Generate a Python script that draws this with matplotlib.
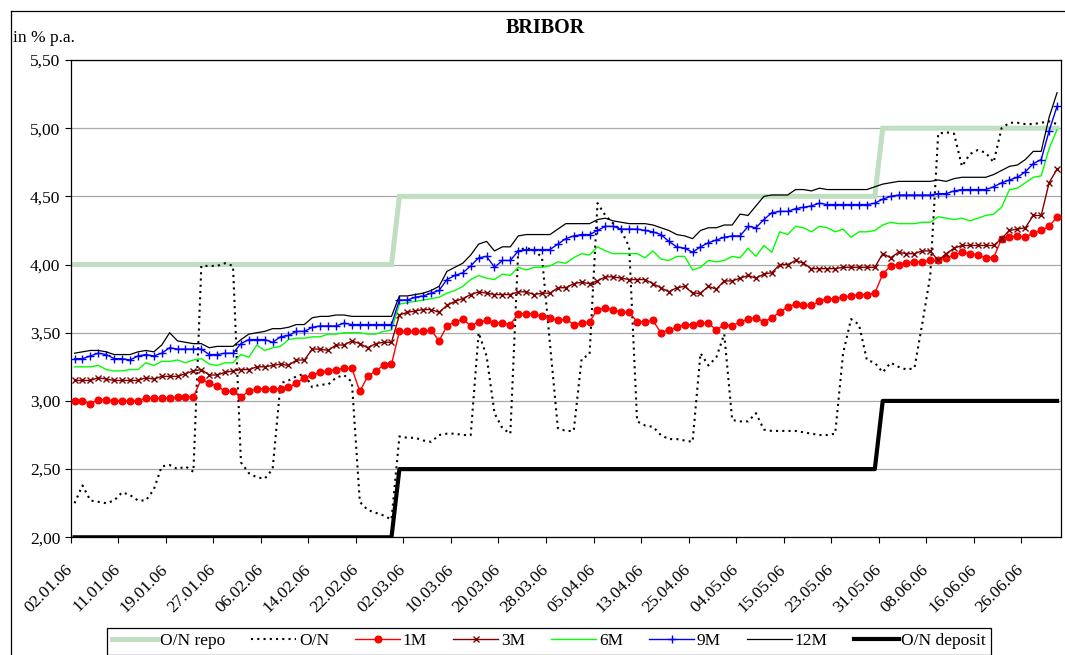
import matplotlib
matplotlib.use("Agg")
import matplotlib.pyplot as plt
from matplotlib.lines import Line2D
import numpy as np

plt.rcParams['font.family'] = ['Liberation Serif', 'DejaVu Serif']

# Daily BRIBOR fixings, first half of 2006 (one value per trading day)
tick_labels = ["02.01.06", "11.01.06", "19.01.06", "27.01.06", "06.02.06",
               "14.02.06", "22.02.06", "02.03.06", "10.03.06", "20.03.06",
               "28.03.06", "05.04.06", "13.04.06", "25.04.06", "04.05.06",
               "15.05.06", "23.05.06", "31.05.06", "08.06.06", "16.06.06",
               "26.06.06"]
tick_every = 6

on_repo = [4.00] * 41 + [4.50] * 61 + [5.00] * 23
on_deposit = [2.00] * 41 + [2.50] * 61 + [3.00] * 23

on_rate = [2.25, 2.38, 2.27, 2.26, 2.25, 2.27, 2.33, 2.31, 2.27, 2.27, 2.35, 2.52, 2.53,
           2.50, 2.52, 2.48, 3.99, 3.99, 3.99, 4.01, 3.99, 2.55, 2.47, 2.44, 2.43,
           2.50, 3.13, 3.15, 3.18, 3.20, 3.10, 3.12, 3.12, 3.17, 3.19, 3.14, 2.26,
           2.20, 2.18, 2.16, 2.13, 2.74, 2.73, 2.73, 2.71, 2.70, 2.75, 2.76, 2.76,
           2.75, 2.75, 3.50, 3.33, 2.91, 2.80, 2.76, 4.11, 4.12, 4.11, 4.05, 3.42, 2.80,
           2.78, 2.78, 3.31, 3.34, 4.45, 4.36, 4.30, 4.25, 4.13, 2.85, 2.82, 2.81, 2.75,
           2.72, 2.72, 2.71, 2.70, 3.35, 3.26, 3.32, 3.49, 2.86, 2.85, 2.85, 2.91, 2.79,
           2.78, 2.78, 2.78, 2.78, 2.77, 2.76, 2.75, 2.75, 2.76, 3.35, 3.60, 3.56, 3.30,
           3.28, 3.21, 3.28, 3.25, 3.23, 3.24, 3.57, 3.92, 4.96, 4.97, 4.96, 4.72,
           4.81, 4.84, 4.82, 4.75, 5.00, 5.04, 5.04, 5.03, 5.03, 5.04, 5.05, 5.03]

rate_1m = [3.00, 3.00, 2.98, 3.01, 3.01, 3.00, 3.00, 3.00, 3.00, 3.02, 3.02, 3.02, 3.02,
           3.03, 3.03, 3.03, 3.16, 3.13, 3.11, 3.07, 3.07, 3.03, 3.07, 3.09, 3.09,
           3.09, 3.09, 3.10, 3.13, 3.17, 3.19, 3.21, 3.22, 3.23, 3.24, 3.24, 3.07,
           3.18, 3.22, 3.26, 3.27, 3.51, 3.51, 3.51, 3.51, 3.52, 3.44, 3.55, 3.58,
           3.60, 3.55, 3.58, 3.59, 3.57, 3.57, 3.56, 3.64, 3.64, 3.64, 3.62, 3.61, 3.59,
           3.60, 3.56, 3.57, 3.58, 3.67, 3.68, 3.67, 3.65, 3.65, 3.58, 3.58, 3.59, 3.50,
           3.52, 3.54, 3.56, 3.56, 3.57, 3.57, 3.52, 3.56, 3.55, 3.58, 3.60, 3.61, 3.58,
           3.61, 3.65, 3.69, 3.71, 3.70, 3.70, 3.73, 3.75, 3.75, 3.76, 3.77, 3.78, 3.78,
           3.79, 3.93, 3.99, 4.00, 4.01, 4.02, 4.02, 4.03, 4.03, 4.05, 4.07, 4.09,
           4.08, 4.07, 4.05, 4.05, 4.19, 4.20, 4.21, 4.20, 4.23, 4.25, 4.28, 4.35]

rate_3m = [3.15, 3.15, 3.15, 3.17, 3.16, 3.15, 3.15, 3.15, 3.15, 3.17, 3.16, 3.18, 3.18,
           3.18, 3.20, 3.22, 3.23, 3.19, 3.19, 3.21, 3.22, 3.23, 3.23, 3.25, 3.25,
           3.26, 3.27, 3.26, 3.30, 3.30, 3.38, 3.38, 3.37, 3.41, 3.41, 3.44, 3.42,
           3.39, 3.42, 3.43, 3.43, 3.63, 3.65, 3.66, 3.67, 3.67, 3.65, 3.70, 3.73,
           3.75, 3.78, 3.80, 3.79, 3.78, 3.78, 3.78, 3.80, 3.80, 3.78, 3.79, 3.79, 3.83,
           3.83, 3.86, 3.87, 3.86, 3.88, 3.91, 3.91, 3.90, 3.89, 3.89, 3.89, 3.86, 3.83,
           3.80, 3.83, 3.84, 3.79, 3.79, 3.84, 3.82, 3.88, 3.88, 3.90, 3.92, 3.90, 3.93,
           3.94, 4.00, 4.00, 4.03, 4.01, 3.97, 3.97, 3.97, 3.97, 3.98, 3.98, 3.98, 3.98,
           3.98, 4.08, 4.05, 4.09, 4.08, 4.08, 4.10, 4.10, 4.03, 4.08, 4.12, 4.14,
           4.14, 4.14, 4.14, 4.14, 4.19, 4.25, 4.26, 4.27, 4.36, 4.36, 4.60, 4.70]

rate_6m = [3.25, 3.25, 3.25, 3.26, 3.23, 3.22, 3.22, 3.23, 3.23, 3.28, 3.26, 3.29, 3.29,
           3.30, 3.28, 3.30, 3.31, 3.27, 3.26, 3.28, 3.28, 3.34, 3.32, 3.41, 3.37,
           3.39, 3.40, 3.45, 3.46, 3.46, 3.47, 3.47, 3.49, 3.49, 3.50, 3.50, 3.50,
           3.49, 3.49, 3.51, 3.52, 3.71, 3.72, 3.73, 3.74, 3.75, 3.76, 3.79, 3.81,
           3.84, 3.89, 3.92, 3.90, 3.89, 3.93, 3.92, 3.98, 3.96, 3.98, 3.98, 3.99, 4.02,
           4.01, 4.05, 4.08, 4.07, 4.13, 4.10, 4.08, 4.08, 4.08, 4.08, 4.05, 4.10, 4.04,
           4.03, 4.06, 4.06, 3.96, 3.98, 4.03, 4.02, 4.03, 4.06, 4.05, 4.12, 4.06, 4.14,
           4.09, 4.24, 4.22, 4.28, 4.27, 4.24, 4.28, 4.27, 4.24, 4.26, 4.20, 4.24, 4.24,
           4.25, 4.29, 4.31, 4.30, 4.30, 4.30, 4.31, 4.31, 4.35, 4.34, 4.33, 4.34,
           4.32, 4.34, 4.36, 4.37, 4.42, 4.55, 4.56, 4.60, 4.64, 4.65, 4.85, 4.99]

rate_9m = [3.31, 3.31, 3.33, 3.35, 3.34, 3.31, 3.31, 3.30, 3.33, 3.34, 3.33, 3.35, 3.39,
           3.38, 3.38, 3.38, 3.38, 3.34, 3.34, 3.35, 3.35, 3.42, 3.45, 3.45, 3.45,
           3.43, 3.47, 3.48, 3.51, 3.51, 3.54, 3.55, 3.55, 3.55, 3.57, 3.56, 3.56,
           3.56, 3.56, 3.56, 3.56, 3.74, 3.74, 3.76, 3.77, 3.79, 3.81, 3.89, 3.92,
           3.94, 3.99, 4.05, 4.06, 3.98, 4.03, 4.03, 4.10, 4.11, 4.11, 4.11, 4.11, 4.15,
           4.19, 4.21, 4.22, 4.22, 4.25, 4.28, 4.28, 4.26, 4.26, 4.26, 4.25, 4.24, 4.22,
           4.17, 4.13, 4.12, 4.09, 4.13, 4.16, 4.18, 4.20, 4.21, 4.21, 4.28, 4.27, 4.33,
           4.38, 4.39, 4.39, 4.41, 4.42, 4.43, 4.45, 4.44, 4.44, 4.44, 4.44, 4.44, 4.44,
           4.45, 4.48, 4.50, 4.51, 4.51, 4.51, 4.51, 4.51, 4.52, 4.52, 4.54, 4.55,
           4.55, 4.55, 4.55, 4.57, 4.60, 4.62, 4.64, 4.68, 4.74, 4.77, 4.98, 5.16]

rate_12m = [3.35, 3.36, 3.37, 3.37, 3.36, 3.34, 3.34, 3.34, 3.36, 3.37, 3.36, 3.41, 3.50,
            3.44, 3.43, 3.42, 3.42, 3.39, 3.40, 3.40, 3.40, 3.45, 3.49, 3.50, 3.51,
            3.53, 3.53, 3.54, 3.56, 3.56, 3.61, 3.62, 3.62, 3.63, 3.63, 3.62, 3.62,
            3.62, 3.62, 3.62, 3.62, 3.77, 3.77, 3.78, 3.79, 3.81, 3.84, 3.95, 3.98,
            4.01, 4.07, 4.15, 4.17, 4.10, 4.13, 4.13, 4.21, 4.22, 4.22, 4.22, 4.22, 4.26,
            4.30, 4.30, 4.30, 4.30, 4.33, 4.34, 4.32, 4.31, 4.30, 4.30, 4.30, 4.29, 4.27,
            4.25, 4.22, 4.21, 4.19, 4.25, 4.27, 4.27, 4.29, 4.29, 4.37, 4.36, 4.43, 4.50,
            4.51, 4.51, 4.51, 4.55, 4.55, 4.54, 4.56, 4.55, 4.55, 4.55, 4.55, 4.55, 4.55,
            4.57, 4.59, 4.60, 4.61, 4.61, 4.61, 4.61, 4.61, 4.62, 4.61, 4.63, 4.64,
            4.64, 4.64, 4.64, 4.66, 4.69, 4.72, 4.73, 4.77, 4.83, 4.83, 5.08, 5.26]

W, H = 1065, 655
fig = plt.figure(figsize=(W / 100, H / 100), dpi=100)
ax = fig.add_axes([70.6 / W, 1 - 537.3 / H, (1061 - 70.6) / W, (537.3 - 60) / H])

x = np.arange(len(rate_1m))

ax.plot(x, on_repo, color='#c0dfc0', lw=3.6, solid_joinstyle='miter', label='O/N repo', zorder=2)
ax.plot(x, on_rate, color='black', lw=1.5, linestyle=(0, (1, 2.0)), label='O/N', zorder=3)
ax.plot(x, rate_1m, color='#ff0000', lw=1.0, marker='o', ms=4.8, mec='#ff0000', mfc='#ff0000',
        label='1M', zorder=4)
ax.plot(x, rate_3m, color='#800000', lw=1.0, marker='x', ms=4.6, mew=1.0, label='3M', zorder=5)
ax.plot(x, rate_6m, color='#00ff00', lw=1.0, label='6M', zorder=6)
ax.plot(x, rate_9m, color='#0000ff', lw=1.0, marker='+', ms=6.0, mew=1.0, label='9M', zorder=7)
ax.plot(x, rate_12m, color='black', lw=0.9, label='12M', zorder=8)
ax.plot(x, on_deposit, color='black', lw=3.0, label='O/N deposit', zorder=9)

ax.set_xlim(-0.5, len(x) - 0.5)
ax.set_ylim(2.0, 5.5)

yt = np.arange(2.0, 5.51, 0.5)
ax.set_yticks(yt)
ax.set_yticklabels([f"{v:.2f}".replace('.', ',') for v in yt], fontsize=12.5)
ax.yaxis.grid(True, color='#a8a8a8', lw=0.9)
ax.set_axisbelow(True)

xt = np.arange(len(tick_labels)) * tick_every - 0.5
ax.set_xticks(xt)
ax.set_xticklabels(tick_labels, rotation=45, ha='right', va='center',
                   rotation_mode='anchor', fontsize=12.5)
ax.tick_params(axis='x', direction='out', length=4.5, width=0.8, pad=17)
ax.tick_params(axis='y', direction='out', length=4.5, width=0.8, pad=3)

for s in ax.spines.values():
    s.set_color('black')
    s.set_linewidth(0.9)

fig.text(545 / W, 1 - 28 / H, 'BRIBOR', ha='center', va='center',
         fontsize=14.5, fontweight='bold')
fig.text(13 / W, 1 - 38 / H, 'in % p.a.', ha='left', va='center', fontsize=12.5)

# outer chart frame
fig.add_artist(Line2D([10.7 / W, 10.7 / W], [0, 1 - 10.7 / H], transform=fig.transFigure,
                      color='black', lw=0.9))
fig.add_artist(Line2D([10.7 / W, 1], [1 - 10.7 / H, 1 - 10.7 / H], transform=fig.transFigure,
                      color='black', lw=0.9))

handles, labels = ax.get_legend_handles_labels()
leg = fig.legend(handles, labels, loc='upper left', bbox_to_anchor=(107 / W, 1 - 628 / H),
                 ncol=8, frameon=True, fancybox=False, edgecolor='black', framealpha=1,
                 fontsize=12.5, handlelength=2.6, handletextpad=0.15, columnspacing=1.5,
                 borderpad=0.3, borderaxespad=0, numpoints=1)
leg.get_frame().set_linewidth(0.9)

fig.savefig('out.png', dpi=100)
